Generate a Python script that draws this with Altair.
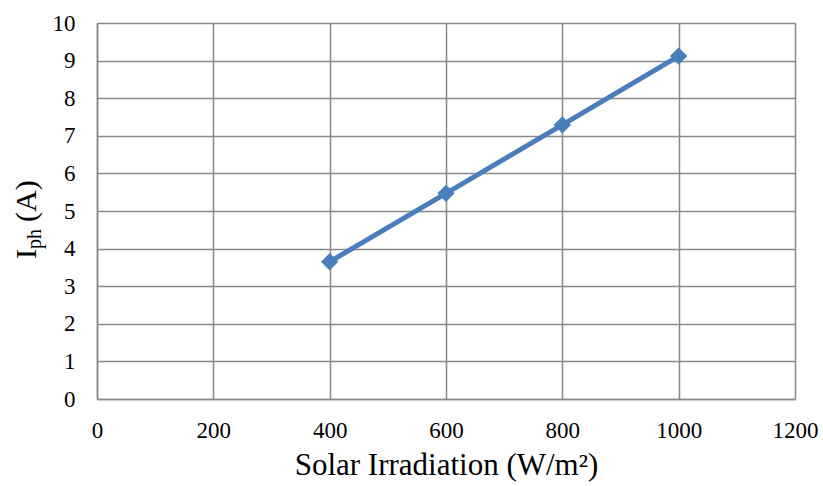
import altair as alt
import pandas as pd

# Data
irradiation = [400, 600, 800, 1000]          # W/m^2
iph = [3.65, 5.47, 7.29, 9.12]               # A
x_ticks = [0, 200, 400, 600, 800, 1000, 1200]
y_ticks = [0, 1, 2, 3, 4, 5, 6, 7, 8, 9, 10]

df = pd.DataFrame({"G": irradiation, "Iph": iph})

FONT = "Liberation Serif"
GRID = "#898989"
BLUE = "#4A7EBB"

x_enc = alt.X(
    "G:Q",
    scale=alt.Scale(domain=[0, 1200], nice=False, zero=True),
    axis=alt.Axis(
        values=x_ticks,
        format="d",
        title="Solar Irradiation (W/m²)",
        titleFont=FONT,
        titleFontSize=31,
        titleFontWeight="normal",
        titleColor="#000000",
        titlePadding=8,
        labelFont=FONT,
        labelFontSize=23,
        labelColor="#000000",
        labelPadding=20,
        labelOverlap=False,
        ticks=False,
        grid=True,
        gridColor=GRID,
        gridWidth=1.5,
        domainColor=GRID,
        domainWidth=1.5,
        labelFlush=False,
    ),
)
y_enc = alt.Y(
    "Iph:Q",
    scale=alt.Scale(domain=[0, 10], nice=False, zero=True),
    axis=alt.Axis(
        values=y_ticks,
        format="d",
        title=None,
        labelFont=FONT,
        labelFontSize=23,
        labelColor="#000000",
        labelPadding=22,
        labelOverlap=False,
        ticks=False,
        grid=True,
        gridColor=GRID,
        gridWidth=1.5,
        domainColor=GRID,
        domainWidth=1.5,
        labelFlush=False,
    ),
)

base = alt.Chart(df).encode(x=x_enc, y=y_enc)
line = base.mark_line(color=BLUE, strokeWidth=5)
points = base.mark_point(shape="diamond", filled=True, size=300, color=BLUE, opacity=1)

# Y-axis title "I_ph (A)" composed with a subscript
t_I = alt.Chart().mark_text(
    text="I", font=FONT, fontSize=30, angle=270, align="left", baseline="alphabetic", color="#000000"
).encode(x=alt.value(-61), y=alt.value(236))
t_ph = alt.Chart().mark_text(
    text="ph", font=FONT, fontSize=20, angle=270, align="left", baseline="alphabetic", color="#000000"
).encode(x=alt.value(-56), y=alt.value(226))
t_A = alt.Chart().mark_text(
    text="(A)", font=FONT, fontSize=30, angle=270, align="left", baseline="alphabetic", color="#000000"
).encode(x=alt.value(-61), y=alt.value(199))

chart = (
    alt.layer(line, points, t_I, t_ph, t_A)
    .properties(
        width=698,
        height=376,
        autosize=alt.AutoSizeParams(type="none"),
        padding={"left": 97, "top": 23, "right": 28, "bottom": 87},
        background="#ffffff",
    )
    .configure_view(stroke=None)
)

chart.save("out.html", embed_options={"renderer": "svg", "actions": False})
